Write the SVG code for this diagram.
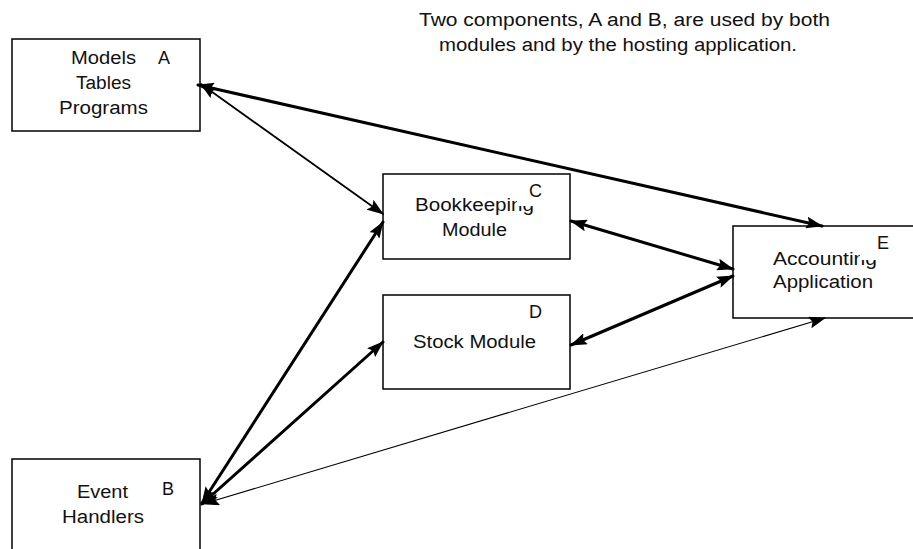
<svg xmlns="http://www.w3.org/2000/svg" width="913" height="549" viewBox="0 0 913 549">
  <style>
    .box { fill: #ffffff; stroke: #000000; stroke-width: 1.5; }
    .lbl { font-family: "Liberation Sans", Arial, sans-serif; font-size: 18px; fill: #111111; }
    .cover { fill: #ffffff; stroke: none; }
    .link { fill: none; stroke: #000000; stroke-linecap: round; }
    .heavy { stroke-width: 3; }
    .medium { stroke-width: 1.8; }
    .light { stroke-width: 1.1; }
  </style>
  <defs>
    <marker id="arrow" viewBox="0 0 17 12" refX="16" refY="6" markerWidth="17" markerHeight="12" markerUnits="userSpaceOnUse" orient="auto-start-reverse">
      <path d="M0,0 L17,6 L0,12 L3,6 z" fill="#000000"/>
    </marker>
  </defs>

  <rect width="913" height="549" fill="#ffffff"/>

  <!-- caption -->
  <g id="caption">
    <text class="lbl" x="419" y="26" textLength="411" lengthAdjust="spacingAndGlyphs">Two components, A and B, are used by both</text>
    <text class="lbl" x="439" y="51" textLength="358" lengthAdjust="spacingAndGlyphs">modules and by the hosting application.</text>
  </g>

  <!-- A: shared models, tables and programs -->
  <g id="node-a">
    <rect class="box" x="12" y="39" width="188" height="92"/>
    <text class="lbl" x="71" y="64" textLength="65" lengthAdjust="spacingAndGlyphs">Models</text>
    <text class="lbl" x="158" y="64">A</text>
    <text class="lbl" x="76" y="89" textLength="55" lengthAdjust="spacingAndGlyphs">Tables</text>
    <text class="lbl" x="59" y="114" textLength="89" lengthAdjust="spacingAndGlyphs">Programs</text>
  </g>

  <!-- B: shared event handlers -->
  <g id="node-b">
    <rect class="box" x="12" y="459" width="188" height="110"/>
    <text class="lbl" x="77" y="498" textLength="51" lengthAdjust="spacingAndGlyphs">Event</text>
    <text class="lbl" x="162" y="495">B</text>
    <text class="lbl" x="62" y="523" textLength="82" lengthAdjust="spacingAndGlyphs">Handlers</text>
  </g>

  <!-- C: bookkeeping module -->
  <g id="node-c">
    <rect class="box" x="383" y="174" width="187" height="85"/>
    <text class="lbl" x="415" y="211" textLength="119" lengthAdjust="spacingAndGlyphs">Bookkeeping</text>
    <rect class="cover" x="517" y="180" width="30" height="26"/>
    <text class="lbl" x="529" y="197">C</text>
    <text class="lbl" x="442" y="236" textLength="65" lengthAdjust="spacingAndGlyphs">Module</text>
  </g>

  <!-- D: stock module -->
  <g id="node-d">
    <rect class="box" x="383" y="295" width="187" height="94"/>
    <text class="lbl" x="529" y="318">D</text>
    <text class="lbl" x="413" y="348" textLength="123" lengthAdjust="spacingAndGlyphs">Stock Module</text>
  </g>

  <!-- E: hosting accounting application -->
  <g id="node-e">
    <rect class="box" x="733" y="226" width="200" height="92"/>
    <text class="lbl" x="773" y="265" textLength="104" lengthAdjust="spacingAndGlyphs">Accounting</text>
    <rect class="cover" x="860" y="232" width="34" height="28"/>
    <text class="lbl" x="877" y="249">E</text>
    <text class="lbl" x="773" y="288" textLength="100" lengthAdjust="spacingAndGlyphs">Application</text>
  </g>

  <!-- connectors, arrowheads at both ends -->
  <g id="connectors">
    <line class="link medium" x1="201" y1="84" x2="383" y2="214" marker-start="url(#arrow)" marker-end="url(#arrow)"/>
    <line class="link heavy" x1="198" y1="85" x2="822" y2="226" marker-start="url(#arrow)" marker-end="url(#arrow)"/>
    <line class="link heavy" x1="202" y1="503" x2="383" y2="222" marker-start="url(#arrow)" marker-end="url(#arrow)"/>
    <line class="link heavy" x1="202" y1="504" x2="383" y2="342" marker-start="url(#arrow)" marker-end="url(#arrow)"/>
    <line class="link light" x1="203" y1="504" x2="825" y2="318" marker-start="url(#arrow)" marker-end="url(#arrow)"/>
    <line class="link heavy" x1="571" y1="221" x2="733" y2="269" marker-start="url(#arrow)" marker-end="url(#arrow)"/>
    <line class="link heavy" x1="571" y1="345" x2="733" y2="276" marker-start="url(#arrow)" marker-end="url(#arrow)"/>
  </g>
</svg>
